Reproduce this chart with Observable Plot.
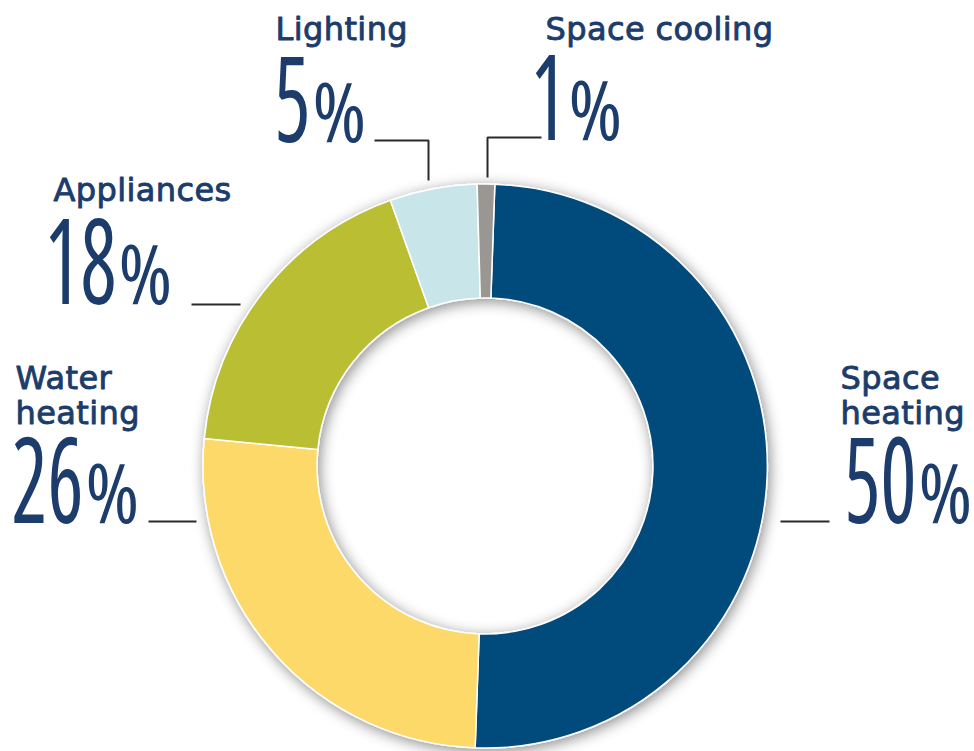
<!DOCTYPE html>
<html>
<head>
<meta charset="utf-8">
<script src="https://cdn.jsdelivr.net/npm/d3@7"></script>
<script src="https://cdn.jsdelivr.net/npm/@observablehq/plot@0.6"></script>
<style>
  html, body { margin: 0; padding: 0; background: #fff; }
  #chart svg { display: block; }
</style>
</head>
<body>
<div id="chart"></div>
<script>
// ---- data ----
const categories = ["Space heating", "Water heating", "Appliances", "Lighting", "Space cooling"];
const shares = [50, 26, 18, 5, 1];
const nameLines = [["Space", "heating"], ["Water", "heating"], ["Appliances"], ["Lighting"], ["Space cooling"]];
const palette = ["#004c7b", "#fdd96a", "#b9be31", "#c8e5e9", "#9a9692"];

// ---- layout (pixels) ----
const W = 974, H = 751;
const CX = 485, CY = 466, R_OUT = 282, R_IN = 168, START_DEG = 2;
const NAME_SIZE = 32, DIGIT_SIZE = 119, PCT_SIZE = 82, DIGIT_ADV = 36;
const TEXT_COLOR = "#1c3c6b";
const NUM_FONT = "Open Sans";
// per category: name x / first baseline, junction between digits and "%", number baseline
const labelX = [840, 15, 53, 275, 545];
const labelBase = [386, 386, 198, 37, 37];
const numJunction = [917, 84, 117, 311, 567];
const numBase = [522, 522, 303, 141, 139];
// leader polylines
const leaderPaths = [
  [[780, 521], [829, 521]],
  [[148, 521], [196, 521]],
  [[191, 304], [240, 304]],
  [[374, 140], [428, 140], [428, 180]],
  [[541, 137], [487, 137], [487, 177]]
];

const slices = categories.map((name, i) => ({name, share: shares[i]}));
const labels = categories.map((name, i) => ({
  name,
  nameText: nameLines[i].join("\n"),
  digits: String(shares[i]),
  nx: labelX[i], nb: labelBase[i],
  jx: numJunction[i], base: numBase[i]
}));
const leaders = leaderPaths.flatMap((pts, i) => pts.map(([x, y]) => ({name: categories[i], x, y})));

const START = START_DEG * Math.PI / 180;

const ring = Plot.dot(slices, {
  x: () => CX, y: () => CY, fill: "name",
  render(index, scales, values) {
    const x0 = scales.x(CX), y0 = scales.y(CY);
    const ro = Math.abs(scales.x(CX + R_OUT) - x0);
    const ri = Math.abs(scales.x(CX + R_IN) - x0);
    const arc = d3.arc().innerRadius(ri).outerRadius(ro);
    const pie = d3.pie().sort(null).value(d => d.share).startAngle(START).endAngle(START + 2 * Math.PI);
    const arcs = pie(Array.from(index, i => slices[i]));
    const g = d3.create("svg:g");
    const id = "donut-shadow";
    const f = g.append("defs").append("filter").attr("id", id)
      .attr("x", "-20%").attr("y", "-20%").attr("width", "140%").attr("height", "140%");
    f.append("feDropShadow").attr("dx", 2).attr("dy", 3).attr("stdDeviation", 7)
      .attr("flood-color", "#000").attr("flood-opacity", 0.45);
    g.append("g").attr("filter", `url(#${id})`)
      .attr("transform", `translate(${x0},${y0})`)
      .selectAll("path").data(arcs).join("path")
      .attr("d", arc)
      .attr("fill", (d, k) => values.fill[index[k]])
      .attr("stroke", "#fff").attr("stroke-width", 1.5).attr("stroke-linejoin", "round");
    return g.node();
  }
});

function condensed(stretch, fitDigits) {
  return function(index, scales, values, dims, ctx, next) {
    const g = next(index, scales, values, dims, ctx);
    const sel = d3.select(g).selectAll("text").style("font-stretch", stretch);
    if (fitDigits) {
      sel.attr("textLength", function() { return this.textContent.length * DIGIT_ADV; })
         .attr("lengthAdjust", "spacingAndGlyphs");
    }
    return g;
  };
}

const chart = Plot.plot({
  width: W, height: H,
  margin: 0,
  x: {domain: [0, W], range: [0, W], axis: null},
  y: {domain: [0, H], range: [0, H], axis: null},
  color: {type: "ordinal", domain: categories, range: palette},
  style: {background: "#fff"},
  marks: [
    ring,
    Plot.line(leaders, {x: "x", y: "y", z: "name", stroke: "#2a2a2a", strokeWidth: 2, strokeLinejoin: "miter", strokeLinecap: "butt"}),
    Plot.text(labels, {
      x: "nx", y: d => d.nb - 0.71 * NAME_SIZE, text: "nameText", textAnchor: "start", lineAnchor: "top", lineHeight: 35 / NAME_SIZE,
      fill: TEXT_COLOR, stroke: TEXT_COLOR, strokeWidth: 0.9,
      fontFamily: "DejaVu Sans", fontSize: NAME_SIZE, fontWeight: "normal",
      render(index, scales, values, dims, ctx, next) {
        const g = next(index, scales, values, dims, ctx);
        d3.select(g).style("letter-spacing", "0.4px");
        return g;
      }
    }),
    Plot.text(labels, {
      x: d => d.jx - 1, y: d => d.base - 0.71 * DIGIT_SIZE, text: "digits", textAnchor: "end", lineAnchor: "top",
      fill: TEXT_COLOR, fontFamily: NUM_FONT, fontSize: DIGIT_SIZE, fontWeight: 400,
      render: condensed("75%", true)
    }),
    Plot.text(labels, {
      x: d => d.jx + 1, y: d => d.base - 0.71 * PCT_SIZE, text: () => "%", textAnchor: "start", lineAnchor: "top",
      fill: TEXT_COLOR, fontFamily: NUM_FONT, fontSize: PCT_SIZE, fontWeight: 400,
      render: condensed("80%", false)
    })
  ]
});

document.getElementById("chart").appendChild(chart);
</script>
</body>
</html>
